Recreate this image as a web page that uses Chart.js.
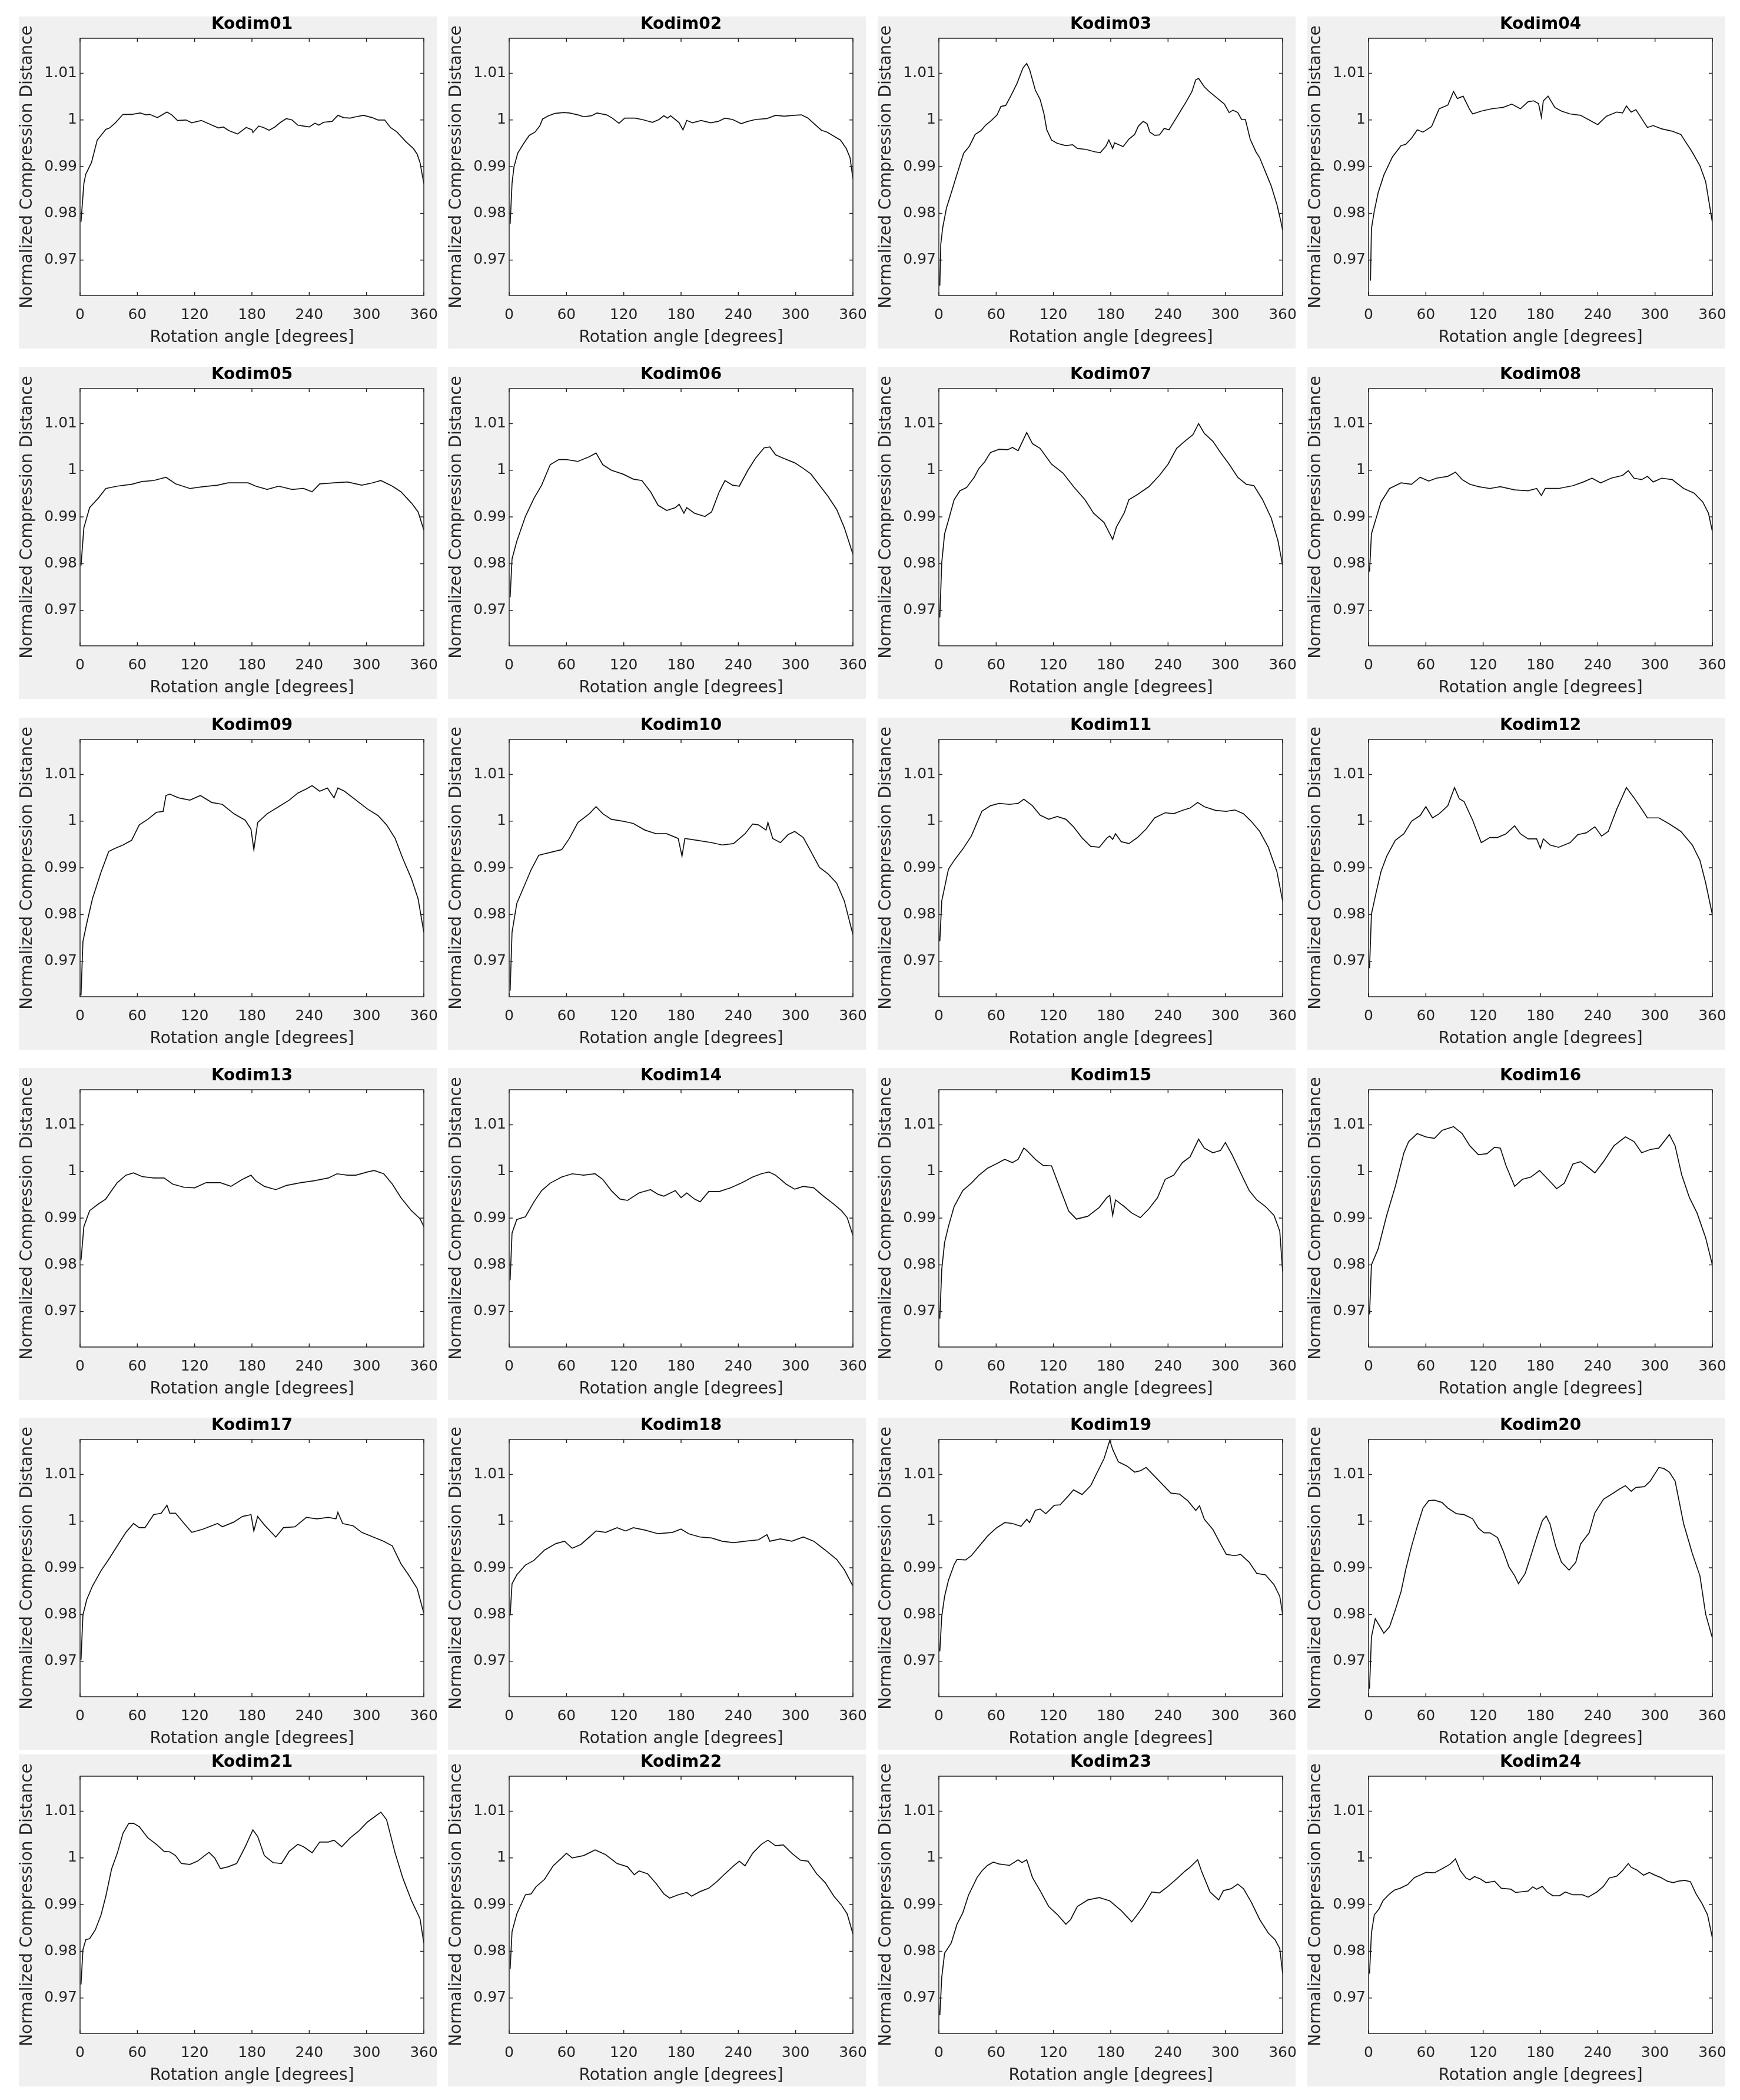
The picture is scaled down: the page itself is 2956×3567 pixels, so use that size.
<!DOCTYPE html>
<html><head><meta charset="utf-8">
<script src="https://cdn.jsdelivr.net/npm/chart.js@4/dist/chart.umd.min.js"></script>
<style>
html,body{margin:0;padding:0;background:#fff;}
body{width:2956px;height:3567px;position:relative;overflow:hidden;}
canvas{position:absolute;background:#f0f0f0;}
</style></head><body>
<script>
const titles = ['Kodim01','Kodim02','Kodim03','Kodim04','Kodim05','Kodim06','Kodim07','Kodim08','Kodim09','Kodim10','Kodim11','Kodim12','Kodim13','Kodim14','Kodim15','Kodim16','Kodim17','Kodim18','Kodim19','Kodim20','Kodim21','Kodim22','Kodim23','Kodim24'];
const xTicks = [0,60,120,180,240,300,360];
const yTicks = [0.97,0.98,0.99,1,1.01];
const xRange = [0,360];
const yRange = [0.9624,1.0175];
const xLabel = 'Rotation angle [degrees]';
const yLabel = 'Normalized Compression Distance';

// [angle, value]
const kodim01 = [[1,0.9782],[4,0.9864],[6,0.9884],[12,0.9909],[18,0.9957],[22,0.9967],[27,0.998],[31,0.9983],[37,0.9994],[45,1.0012],[54,1.0012],[63,1.0015],[69,1.0011],[73,1.0012],[81,1.0005],[91,1.0017],[96,1.0011],[102,0.9999],[111,1.0],[117,0.9994],[127,0.9999],[138,0.9989],[145,0.9983],[150,0.9985],[156,0.9977],[165,0.997],[174,0.9984],[180,0.9979],[181,0.9973],[187,0.9987],[192,0.9984],[198,0.9978],[204,0.9985],[210,0.9995],[216,1.0003],[222,1.0],[228,0.9989],[234,0.9987],[240,0.9985],[246,0.9993],[250,0.9989],[255,0.9995],[264,0.9997],[270,1.001],[276,1.0005],[283,1.0004],[289,1.0007],[297,1.001],[306,1.0005],[312,1.0],[319,1.0],[325,0.9984],[332,0.9974],[341,0.9954],[349,0.9939],[353,0.9927],[356,0.9909],[360,0.9864]];
const kodim02 = [[1,0.9777],[3,0.9864],[5,0.9899],[9,0.9929],[15,0.9949],[21,0.9967],[27,0.9974],[32,0.9987],[35,1.0002],[41,1.0009],[48,1.0014],[57,1.0016],[63,1.0015],[72,1.0011],[78,1.0007],[86,1.0009],[92,1.0015],[102,1.0011],[108,1.0004],[115,0.9993],[121,1.0004],[132,1.0004],[141,1.0],[150,0.9995],[157,1.0001],[162,1.0009],[166,1.0004],[169,1.0009],[174,1.0001],[178,0.9994],[182,0.9979],[186,0.9999],[192,0.9994],[201,0.9999],[211,0.9994],[219,0.9997],[226,1.0004],[234,1.0001],[243,0.9992],[250,0.9997],[258,1.0001],[270,1.0003],[279,1.001],[288,1.0008],[298,1.001],[306,1.0011],[313,1.0004],[321,0.9989],[327,0.9978],[333,0.9974],[341,0.9964],[347,0.9957],[353,0.9939],[357,0.9919],[360,0.9874]];
const kodim03 = [[1,0.9645],[2,0.9734],[4,0.9769],[8,0.9812],[13,0.9844],[19,0.9884],[26,0.9929],[32,0.9944],[38,0.9969],[44,0.9977],[49,0.9989],[55,0.9999],[61,1.0011],[65,1.0029],[70,1.0031],[76,1.0054],[82,1.0079],[88,1.0111],[92,1.0121],[95,1.0108],[101,1.0064],[106,1.0044],[110,1.0014],[113,0.9979],[118,0.9957],[124,0.995],[133,0.9945],[140,0.9947],[145,0.9939],[154,0.9937],[163,0.9932],[169,0.993],[175,0.9944],[178,0.9957],[182,0.9939],[184,0.9951],[193,0.9943],[199,0.9959],[205,0.9969],[209,0.9987],[214,0.9997],[218,0.9992],[221,0.9974],[226,0.9967],[231,0.9968],[236,0.9982],[241,0.9979],[247,0.9999],[253,1.0019],[259,1.0039],[265,1.0061],[269,1.0086],[272,1.0089],[278,1.0071],[283,1.0061],[292,1.0046],[299,1.0034],[304,1.0016],[308,1.0021],[313,1.0016],[317,1.0001],[321,1.0001],[326,0.9959],[332,0.9932],[336,0.9919],[342,0.9889],[348,0.9859],[354,0.9819],[358,0.9784],[360,0.9764]];
const kodim04 = [[2,0.9656],[3,0.9767],[6,0.9805],[10,0.9844],[16,0.9882],[25,0.9921],[34,0.9945],[39,0.9948],[45,0.9961],[51,0.9979],[57,0.9974],[66,0.9986],[74,1.0024],[83,1.0032],[89,1.0061],[93,1.0046],[99,1.0051],[106,1.0022],[109,1.0013],[118,1.0019],[129,1.0024],[141,1.0027],[150,1.0034],[159,1.0024],[167,1.0039],[173,1.0041],[178,1.0035],[181,1.0006],[183,1.0041],[188,1.0051],[195,1.0027],[202,1.0019],[211,1.0013],[222,1.001],[231,1.0],[240,0.999],[249,1.0008],[260,1.0017],[266,1.0015],[270,1.003],[275,1.0017],[280,1.0022],[286,1.0003],[292,0.9984],[298,0.9988],[307,0.9981],[318,0.9976],[327,0.9969],[339,0.9931],[347,0.9902],[353,0.9868],[360,0.9781]];
const kodim05 = [[1,0.9796],[4,0.9877],[10,0.992],[19,0.994],[27,0.9961],[39,0.9966],[54,0.997],[65,0.9976],[77,0.9978],[90,0.9985],[100,0.9971],[115,0.9961],[129,0.9965],[144,0.9968],[155,0.9973],[176,0.9973],[184,0.9966],[196,0.9959],[208,0.9966],[222,0.9959],[234,0.9961],[243,0.9954],[251,0.9971],[266,0.9973],[280,0.9975],[295,0.9968],[306,0.9973],[315,0.9978],[327,0.9966],[336,0.9954],[347,0.993],[354,0.9911],[360,0.9872]];
const kodim06 = [[1,0.9728],[3,0.981],[8,0.9848],[17,0.9901],[26,0.994],[34,0.9968],[43,1.0012],[52,1.0023],[60,1.0023],[72,1.0019],[84,1.0029],[91,1.0037],[98,1.0012],[107,1.0],[119,0.9992],[130,0.9981],[139,0.9978],[148,0.9954],[156,0.9925],[165,0.9914],[174,0.992],[178,0.9927],[183,0.9908],[186,0.992],[194,0.9908],[205,0.9901],[212,0.9911],[220,0.9954],[226,0.9978],[234,0.9968],[241,0.9966],[250,1.0],[258,1.0026],[267,1.0048],[273,1.005],[279,1.0033],[287,1.0026],[299,1.0016],[308,1.0004],[316,0.9992],[325,0.9968],[334,0.9944],[343,0.9916],[351,0.9877],[360,0.982]];
const kodim07 = [[1,0.9685],[3,0.9802],[6,0.9864],[10,0.9893],[16,0.9937],[22,0.9956],[29,0.9963],[37,0.9985],[42,1.0004],[48,1.0018],[54,1.0038],[63,1.0045],[72,1.0044],[77,1.0049],[83,1.0042],[92,1.0081],[98,1.0057],[106,1.0047],[118,1.0013],[130,0.9994],[141,0.9965],[153,0.9937],[162,0.9908],[173,0.9888],[179,0.9864],[182,0.9852],[186,0.9879],[194,0.9908],[199,0.9937],[208,0.9948],[220,0.9965],[231,0.9989],[240,1.0013],[249,1.0047],[258,1.0063],[266,1.0076],[272,1.01],[278,1.0079],[287,1.0062],[295,1.0038],[304,1.0013],[313,0.9985],[322,0.997],[330,0.9967],[339,0.9937],[348,0.9898],[355,0.985],[360,0.9797]];
const kodim08 = [[1,0.9783],[3,0.9864],[8,0.9898],[13,0.9932],[22,0.9961],[34,0.9973],[45,0.997],[54,0.9985],[63,0.9977],[71,0.9983],[83,0.9987],[91,0.9996],[98,0.998],[106,0.997],[115,0.9965],[127,0.9961],[138,0.9965],[153,0.9958],[167,0.9956],[176,0.9961],[181,0.9946],[185,0.9961],[199,0.9961],[214,0.9967],[225,0.9975],[234,0.9983],[243,0.9973],[254,0.9983],[266,0.9989],[272,0.9999],[278,0.9983],[286,0.998],[292,0.9987],[298,0.9975],[307,0.9983],[318,0.998],[330,0.9961],[341,0.9951],[350,0.9932],[356,0.9908],[360,0.9869]];
const kodim09 = [[1,0.9627],[3,0.9742],[7,0.9781],[13,0.9834],[22,0.9891],[30,0.9935],[36,0.9941],[45,0.9949],[54,0.9959],[62,0.9992],[71,1.0004],[80,1.0019],[87,1.0021],[90,1.0055],[94,1.0058],[103,1.005],[115,1.0045],[126,1.0055],[138,1.004],[149,1.0036],[161,1.0016],[173,1.0002],[179,0.9983],[182,0.9939],[186,0.9997],[196,1.0016],[208,1.0031],[219,1.0045],[228,1.006],[237,1.0069],[243,1.0076],[251,1.0064],[259,1.0071],[266,1.005],[270,1.0071],[277,1.0064],[289,1.0045],[301,1.0026],[312,1.0012],[321,0.9992],[330,0.9963],[338,0.992],[347,0.9877],[354,0.9834],[360,0.9762]];
const kodim10 = [[1,0.9637],[3,0.9762],[8,0.9824],[17,0.9867],[23,0.9896],[31,0.9927],[43,0.9933],[55,0.9939],[63,0.9963],[72,0.9997],[84,1.0016],[91,1.0031],[98,1.0016],[107,1.0004],[119,1.0],[130,0.9995],[142,0.9981],[154,0.9973],[165,0.9973],[177,0.9963],[181,0.9925],[184,0.9963],[197,0.9959],[212,0.9954],[223,0.9949],[235,0.9952],[247,0.9973],[255,0.9994],[261,0.9992],[269,0.9981],[271,0.9997],[276,0.9963],[284,0.9954],[292,0.9971],[299,0.9978],[308,0.9965],[316,0.9935],[325,0.9901],[334,0.9887],[343,0.9867],[351,0.9829],[360,0.9757]];
const kodim11 = [[1,0.9743],[3,0.9829],[6,0.9858],[10,0.9897],[16,0.9916],[25,0.994],[34,0.9968],[40,0.9997],[45,1.0021],[54,1.0033],[63,1.0038],[74,1.0036],[83,1.0038],[89,1.0047],[98,1.0033],[106,1.0013],[115,1.0004],[124,1.001],[133,1.0004],[141,0.9988],[150,0.9964],[159,0.9946],[168,0.9944],[176,0.9964],[179,0.9968],[182,0.9961],[185,0.9973],[191,0.9956],[199,0.9952],[208,0.9965],[217,0.9983],[226,1.0007],[237,1.0018],[246,1.0016],[255,1.0023],[263,1.0028],[271,1.004],[278,1.0031],[290,1.0023],[301,1.0021],[310,1.0024],[319,1.0016],[327,1.0],[336,0.9978],[345,0.9944],[354,0.9892],[360,0.9829]];
const kodim12 = [[1,0.9685],[3,0.9801],[8,0.9848],[13,0.9892],[19,0.9925],[28,0.9959],[37,0.9973],[45,1.0],[54,1.0012],[60,1.0031],[67,1.0007],[74,1.0016],[83,1.0033],[90,1.0072],[95,1.0048],[100,1.0042],[109,1.0002],[118,0.9954],[127,0.9965],[135,0.9965],[144,0.9973],[153,0.999],[159,0.9973],[167,0.9962],[176,0.9962],[180,0.9942],[183,0.9962],[190,0.9949],[199,0.9944],[211,0.9954],[219,0.9971],[228,0.9975],[237,0.9988],[244,0.9968],[251,0.9978],[260,1.0026],[270,1.0072],[278,1.005],[286,1.0026],[292,1.0007],[304,1.0007],[315,0.9994],[327,0.9978],[339,0.9949],[347,0.9916],[353,0.9868],[360,0.98]];
const kodim13 = [[1,0.981],[4,0.9882],[10,0.9916],[19,0.993],[27,0.9941],[33,0.9959],[39,0.9976],[48,0.9992],[56,0.9997],[65,0.9989],[77,0.9986],[88,0.9986],[97,0.9973],[109,0.9966],[120,0.9965],[132,0.9976],[147,0.9976],[158,0.9968],[170,0.9983],[179,0.9992],[184,0.998],[193,0.9968],[205,0.9961],[216,0.997],[231,0.9976],[245,0.998],[260,0.9986],[269,0.9995],[280,0.9992],[289,0.9992],[301,0.9999],[308,1.0002],[318,0.9995],[327,0.9973],[336,0.9944],[347,0.9916],[356,0.9899],[360,0.9882]];
const kodim14 = [[1,0.9767],[3,0.9868],[8,0.9897],[17,0.9903],[26,0.9935],[34,0.9959],[43,0.9975],[55,0.9988],[66,0.9995],[78,0.9992],[90,0.9995],[98,0.9983],[107,0.9959],[116,0.9941],[124,0.9938],[136,0.9954],[148,0.9961],[156,0.9951],[162,0.9947],[174,0.9959],[180,0.9944],[186,0.9954],[194,0.9941],[200,0.9935],[209,0.9957],[220,0.9957],[232,0.9965],[244,0.9976],[255,0.9988],[264,0.9995],[272,0.9999],[279,0.9992],[290,0.9973],[299,0.9962],[308,0.9968],[319,0.9965],[328,0.9949],[340,0.993],[348,0.9916],[354,0.9901],[360,0.9863]];
const kodim15 = [[1,0.9685],[3,0.979],[6,0.9848],[10,0.9882],[16,0.9925],[25,0.9959],[34,0.9975],[42,0.9992],[51,1.0007],[60,1.0016],[69,1.0026],[77,1.0019],[83,1.0026],[89,1.005],[92,1.0045],[101,1.0026],[109,1.0013],[118,1.0012],[127,0.9963],[136,0.9915],[144,0.9898],[156,0.9904],[168,0.9923],[176,0.9944],[179,0.9949],[182,0.9906],[185,0.9939],[194,0.9925],[202,0.9911],[211,0.9901],[220,0.992],[229,0.9944],[237,0.9983],[246,0.9992],[255,1.0019],[263,1.0031],[272,1.0069],[278,1.005],[287,1.004],[295,1.0045],[300,1.0062],[307,1.0036],[316,0.9997],[325,0.9959],[333,0.9939],[342,0.9925],[351,0.9906],[357,0.9872],[360,0.9786]];
const kodim16 = [[1,0.9694],[3,0.98],[10,0.9834],[19,0.9906],[28,0.9968],[37,1.004],[42,1.0064],[51,1.0081],[60,1.0074],[69,1.0071],[77,1.0088],[89,1.0096],[98,1.0081],[106,1.0055],[115,1.0036],[124,1.0038],[132,1.0052],[138,1.005],[144,1.0012],[153,0.9968],[161,0.9983],[170,0.9988],[179,1.0002],[188,0.9983],[197,0.9963],[205,0.9975],[214,1.0016],[222,1.0021],[231,1.0007],[237,0.9997],[246,1.0021],[257,1.0055],[269,1.0074],[278,1.0064],[286,1.004],[295,1.0047],[304,1.005],[315,1.0079],[321,1.0055],[328,0.9992],[336,0.9944],[344,0.9911],[353,0.9858],[360,0.98]];
const kodim17 = [[1,0.9703],[3,0.9799],[7,0.9832],[13,0.9861],[22,0.9894],[30,0.9918],[39,0.9947],[48,0.9976],[56,0.9995],[62,0.9986],[68,0.9986],[77,1.0014],[85,1.0017],[91,1.0034],[94,1.0017],[100,1.0017],[109,0.9995],[117,0.9976],[129,0.9983],[144,0.9995],[149,0.9988],[161,0.9998],[170,1.001],[179,1.0014],[182,0.9979],[186,1.001],[193,0.9992],[205,0.9966],[213,0.9986],[225,0.9988],[237,1.0008],[248,1.0005],[260,1.0008],[268,1.0005],[270,1.0019],[275,0.9995],[286,0.999],[295,0.9976],[307,0.9966],[318,0.9957],[327,0.9947],[336,0.9909],[344,0.9885],[353,0.9856],[360,0.9803]];
const kodim18 = [[1,0.9798],[3,0.9866],[8,0.9885],[17,0.9906],[26,0.9916],[37,0.9938],[49,0.9952],[58,0.9957],[66,0.9942],[75,0.995],[84,0.9966],[91,0.9979],[101,0.9976],[113,0.9986],[122,0.9979],[130,0.9986],[142,0.9981],[156,0.9973],[171,0.9976],[180,0.9983],[188,0.9973],[200,0.9966],[212,0.9964],[223,0.9957],[235,0.9954],[247,0.9957],[261,0.996],[270,0.9971],[273,0.9957],[284,0.9962],[296,0.9957],[308,0.9966],[319,0.9957],[331,0.9938],[343,0.9918],[351,0.9896],[360,0.9861]];
const kodim19 = [[1,0.9721],[3,0.9796],[6,0.9839],[10,0.9873],[16,0.9907],[19,0.9918],[28,0.9917],[34,0.9926],[42,0.9946],[51,0.9968],[60,0.9985],[69,0.9997],[77,0.9995],[86,0.9989],[92,1.0004],[95,0.9997],[101,1.0023],[106,1.0026],[112,1.0016],[121,1.0034],[127,1.0035],[136,1.0055],[141,1.0067],[150,1.0057],[159,1.0076],[165,1.0101],[173,1.0134],[179,1.0173],[182,1.0154],[188,1.0127],[197,1.0118],[205,1.0105],[211,1.0108],[217,1.0115],[226,1.0096],[234,1.0079],[243,1.006],[252,1.0058],[261,1.0043],[269,1.0023],[273,1.0033],[278,1.0004],[287,0.9982],[295,0.9951],[301,0.9929],[310,0.9926],[316,0.9929],[325,0.9912],[333,0.9888],[342,0.9885],[351,0.9864],[357,0.9839],[360,0.9801]];
const kodim20 = [[1,0.9641],[3,0.9752],[7,0.9791],[12,0.9774],[16,0.976],[22,0.9774],[28,0.981],[34,0.9849],[39,0.9897],[45,0.9946],[51,0.9989],[57,1.0028],[63,1.0044],[69,1.0045],[77,1.004],[83,1.0028],[92,1.0016],[100,1.0014],[109,1.0005],[115,0.9985],[121,0.9975],[127,0.9975],[135,0.9965],[141,0.9936],[147,0.9902],[153,0.9883],[157,0.9866],[164,0.9888],[170,0.9926],[176,0.9965],[182,1.0001],[186,1.0011],[190,0.9994],[196,0.9946],[202,0.9912],[210,0.9895],[217,0.9912],[222,0.9951],[231,0.9975],[237,1.0018],[246,1.0047],[254,1.0057],[263,1.0069],[269,1.0076],[275,1.0064],[280,1.0072],[289,1.0074],[295,1.0086],[304,1.0115],[309,1.0113],[315,1.0105],[321,1.0086],[330,0.9994],[339,0.9931],[347,0.9883],[353,0.9801],[360,0.975]];
const kodim21 = [[1,0.9729],[3,0.9803],[6,0.9825],[10,0.9827],[16,0.9846],[22,0.9878],[27,0.9918],[33,0.9976],[39,1.001],[45,1.0053],[51,1.0074],[56,1.0074],[62,1.0067],[71,1.0043],[80,1.0029],[88,1.0014],[94,1.0013],[100,1.0005],[106,0.9988],[115,0.9986],[123,0.9993],[135,1.0012],[141,1.0],[147,0.9977],[155,0.9981],[164,0.9988],[173,1.0024],[181,1.006],[186,1.0046],[193,1.0005],[202,0.999],[211,0.9988],[219,1.0014],[228,1.0029],[234,1.0024],[243,1.0011],[251,1.0034],[260,1.0034],[266,1.0038],[274,1.0024],[283,1.0043],[292,1.0058],[301,1.0077],[309,1.0089],[315,1.0098],[321,1.0082],[330,1.001],[338,0.9957],[347,0.9909],[356,0.987],[360,0.9818]];
const kodim22 = [[1,0.9762],[3,0.9842],[8,0.988],[17,0.9921],[23,0.9923],[28,0.9938],[37,0.9954],[46,0.9983],[55,1.0],[60,1.001],[66,1.0],[78,1.0005],[90,1.0017],[101,1.0007],[113,0.9988],[124,0.9981],[131,0.9964],[136,0.9972],[145,0.9966],[154,0.9945],[162,0.9923],[168,0.9914],[177,0.9921],[186,0.9926],[191,0.9918],[200,0.9928],[209,0.9935],[218,0.995],[226,0.9966],[235,0.9983],[241,0.9993],[247,0.9983],[255,1.001],[264,1.0029],[271,1.0038],[279,1.0026],[287,1.0028],[296,1.001],[305,0.9995],[313,0.9993],[322,0.9966],[331,0.9947],[340,0.9918],[348,0.9899],[354,0.988],[360,0.9837]];
const kodim23 = [[1,0.9663],[3,0.9744],[6,0.9796],[13,0.9818],[19,0.9858],[25,0.9882],[31,0.992],[40,0.9958],[45,0.9972],[51,0.9984],[57,0.9991],[63,0.9987],[74,0.9984],[83,0.9996],[87,0.999],[92,0.9996],[98,0.9958],[106,0.993],[115,0.9896],[124,0.9879],[133,0.9858],[138,0.9868],[145,0.9896],[156,0.991],[168,0.9915],[179,0.9908],[191,0.9887],[202,0.9863],[208,0.9879],[214,0.9896],[223,0.9927],[231,0.9925],[240,0.9939],[249,0.9955],[258,0.9972],[263,0.998],[271,0.9996],[275,0.9972],[284,0.9927],[293,0.991],[298,0.993],[306,0.9934],[313,0.9944],[319,0.9934],[327,0.9906],[336,0.9868],[345,0.9839],[352,0.9825],[357,0.9806],[360,0.9753]];
const kodim24 = [[1,0.9752],[3,0.9839],[6,0.9878],[11,0.9891],[15,0.9908],[21,0.9921],[27,0.9931],[33,0.9935],[41,0.9943],[48,0.9958],[55,0.9964],[60,0.9969],[69,0.9968],[78,0.9978],[85,0.9986],[91,0.9998],[96,0.9973],[102,0.9957],[106,0.9953],[111,0.996],[117,0.9955],[123,0.9947],[132,0.995],[139,0.9935],[149,0.9933],[154,0.9926],[167,0.9929],[172,0.9938],[176,0.9933],[182,0.9939],[187,0.9927],[193,0.9919],[200,0.9919],[206,0.9927],[214,0.9921],[224,0.9921],[230,0.9916],[239,0.9927],[246,0.9939],[252,0.9957],[260,0.9961],[266,0.9973],[272,0.9988],[275,0.998],[281,0.9974],[288,0.9963],[294,0.9969],[300,0.9963],[306,0.9958],[313,0.995],[319,0.9947],[324,0.995],[331,0.9952],[337,0.9949],[343,0.9923],[349,0.9903],[355,0.9878],[360,0.9829]];

const series = [kodim01,kodim02,kodim03,kodim04,kodim05,kodim06,kodim07,kodim08,kodim09,kodim10,kodim11,kodim12,kodim13,kodim14,kodim15,kodim16,kodim17,kodim18,kodim19,kodim20,kodim21,kodim22,kodim23,kodim24];

// layout
const FONT = '"DejaVu Sans", sans-serif';
const AXC = '#262626';
const colLeft = [32, 761, 1491, 2221];
const rowTop = [28, 623, 1219, 1814, 2408, 2980];
const PANEL_W = 710, PANEL_H = 564;

const boxPlugin = {
  id: 'matlabBox',
  beforeDraw(chart) {
    const {ctx, chartArea: a} = chart;
    ctx.save();
    ctx.fillStyle = '#ffffff';
    ctx.fillRect(a.left, a.top, a.right - a.left, a.bottom - a.top);
    ctx.restore();
  },
  afterDraw(chart) {
    const {ctx, chartArea: a, scales} = chart;
    const x = scales.x, y = scales.y;
    const L = 6;
    ctx.save();
    ctx.strokeStyle = AXC;
    ctx.lineWidth = 1.5;
    ctx.beginPath();
    xTicks.forEach(v => {
      const p = x.getPixelForValue(v);
      ctx.moveTo(p, a.bottom); ctx.lineTo(p, a.bottom - L);
      ctx.moveTo(p, a.top); ctx.lineTo(p, a.top + L);
    });
    yTicks.forEach(v => {
      const p = y.getPixelForValue(v);
      ctx.moveTo(a.left, p); ctx.lineTo(a.left + L, p);
      ctx.moveTo(a.right, p); ctx.lineTo(a.right - L, p);
    });
    ctx.stroke();
    ctx.strokeRect(a.left, a.top, a.right - a.left, a.bottom - a.top);
    ctx.restore();
  }
};

series.forEach((pts, i) => {
  const c = document.createElement('canvas');
  c.width = PANEL_W; c.height = PANEL_H;
  c.style.left = colLeft[i % 4] + 'px';
  c.style.top = rowTop[Math.floor(i / 4)] + 'px';
  c.style.width = PANEL_W + 'px'; c.style.height = PANEL_H + 'px';
  document.body.appendChild(c);
  new Chart(c, {
    type: 'line',
    data: {
      datasets: [{
        data: pts.map(([a, v]) => ({x: a, y: v})),
        borderColor: '#111111',
        borderWidth: 1.7,
        pointRadius: 0,
        tension: 0,
        fill: false
      }]
    },
    options: {
      responsive: false,
      animation: false,
      devicePixelRatio: 1,
      layout: {padding: {left: 0, right: 22, top: 0, bottom: 0}},
      plugins: {
        legend: {display: false},
        tooltip: {enabled: false},
        title: {
          display: true, fullSize: false, text: titles[i], color: '#000',
          font: {family: FONT, size: 28, weight: 'bold', lineHeight: 1},
          padding: {top: 0, bottom: 9}
        }
      },
      scales: {
        x: {
          type: 'linear', min: xRange[0], max: xRange[1],
          afterBuildTicks(s) { s.ticks = xTicks.map(v => ({value: v})); },
          afterFit(s) { s.height = 90; s.paddingLeft = 0; s.paddingRight = 0; },
          grid: {display: false, drawTicks: false},
          border: {display: false},
          ticks: {color: AXC, font: {family: FONT, size: 25, lineHeight: 1}, padding: 21, maxRotation: 0, autoSkip: false, callback: v => String(v)},
          title: {display: true, text: xLabel, color: AXC, font: {family: FONT, size: 28, lineHeight: 1}, padding: {top: 0, bottom: 4}}
        },
        y: {
          type: 'linear', min: yRange[0], max: yRange[1],
          afterBuildTicks(s) { s.ticks = yTicks.map(v => ({value: v})); },
          afterFit(s) { s.width = 104; s.paddingTop = 0; s.paddingBottom = 0; },
          grid: {display: false, drawTicks: false},
          border: {display: false},
          ticks: {color: AXC, font: {family: FONT, size: 25, lineHeight: 1}, padding: 5, autoSkip: false, callback: v => String(v)},
          title: {display: true, text: yLabel, color: AXC, font: {family: FONT, size: 28, lineHeight: 1}, padding: {top: 1, bottom: 0}}
        }
      }
    },
    plugins: [boxPlugin]
  });
});
</script>
</body></html>
